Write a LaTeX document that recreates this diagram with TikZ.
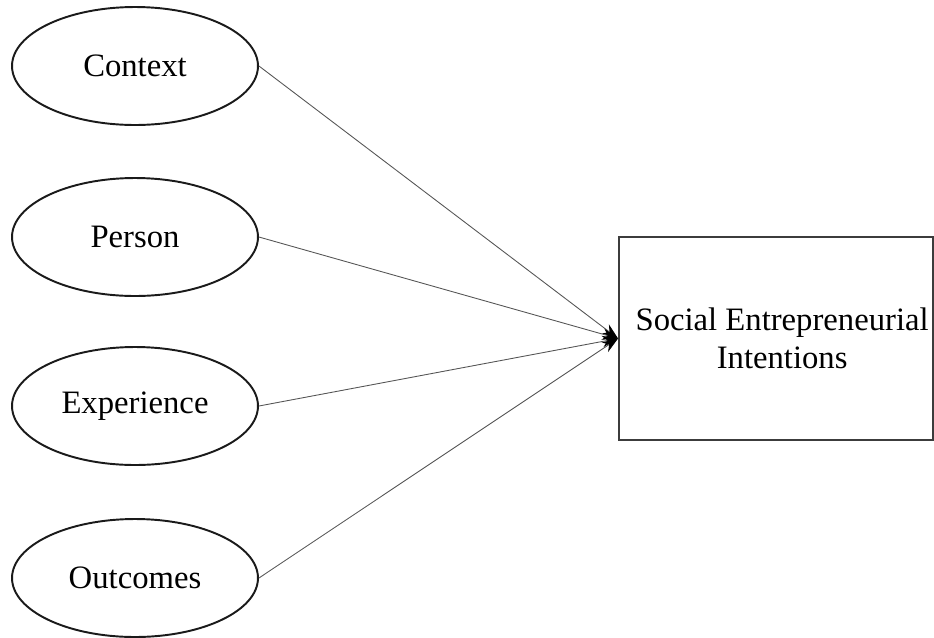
\documentclass[tikz,border=0pt]{standalone}
\usepackage{fontspec}
\setmainfont{Liberation Serif}
\usetikzlibrary{arrows.meta,shapes.geometric}

\begin{document}
\begin{tikzpicture}[x=0.02cm, y=-0.02cm, font=\fontsize{18.6}{21.6}\selectfont]

\definecolor{modelink}{HTML}{1A1A1A}
\definecolor{modeledge}{HTML}{555555}

\tikzset{
  factor/.style={
    ellipse, draw=modelink, line width=1.1pt,
    minimum width=4.92cm, minimum height=2.36cm, inner sep=0pt
  },
  outcome/.style={
    rectangle, draw=modelink!85, line width=1.1pt, align=center,
    minimum width=6.28cm, minimum height=4.06cm, inner sep=0pt
  },
  effectedge/.style={
    draw=modeledge, line width=0.5pt,
    -{Stealth[length=9pt,width=6.5pt,black]}
  }
}

% Frame of the whole figure.
\useasboundingbox (0,0) rectangle (934,637);

% The four antecedents, stacked down the left side.
\node[factor] (context)    at (135,66)  {Context};
\node[factor] (person)     at (135,237) {Person};
\node[factor] (experience) at (135,406) {Experience};
\node[factor] (outcomes)   at (135,578) {Outcomes};

% The dependent construct, running to the right edge.
\node[outcome] (intentions) at (776,338.5)
  {\hspace*{7pt}Social Entrepreneurial\\\hspace*{7pt}Intentions};

% Every antecedent points at the same spot on the box.
\foreach \from in {context,person,experience,outcomes}
  \draw[effectedge] (\from.east) -- (intentions.west);

\end{tikzpicture}
\end{document}
